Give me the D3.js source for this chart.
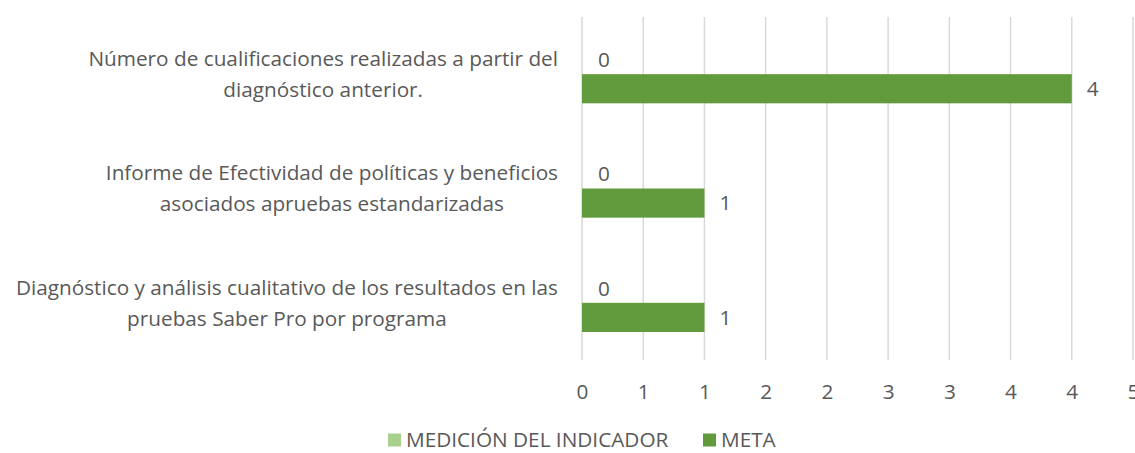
<!DOCTYPE html>
<html>
<head>
<meta charset="utf-8">
<script src="https://cdn.jsdelivr.net/npm/d3@7"></script>
<style>
  html, body { margin: 0; padding: 0; background: #ffffff; }
  svg { display: block; }
  text { font-family: "Open Sans", Lato, sans-serif; fill: #595959; }
</style>
</head>
<body>
<svg id="chart" width="1135" height="453"></svg>
<script>
// ---- data ----
const categories = [
  ["Número de cualificaciones realizadas a partir del", "diagnóstico anterior."],
  ["Informe de Efectividad de políticas y beneficios", "asociados apruebas estandarizadas"],
  ["Diagnóstico y análisis cualitativo de los resultados en las", "pruebas Saber Pro por programa"]
];
const seriesNames = ["MEDICIÓN DEL INDICADOR", "META"];
const medicion = [0, 0, 0];
const meta = [4, 1, 1];
const tickValues = [0, 0.5, 1, 1.5, 2, 2.5, 3, 3.5, 4, 4.5];
const seriesColors = ["#a9d18e", "#629a3e"];

// ---- layout ----
const W = 1135, H = 453;
const plot = { left: 582, right: 1133, top: 17, bottom: 360 };
const svg = d3.select("#chart");

// fit font size so that text widths resemble the reference
const probe = svg.append("text").attr("font-size", 20).text(categories[0][0]);
const FS = 20 * 470 / probe.node().getComputedTextLength();
probe.remove();

const x = d3.scaleLinear().domain([0, 4.5]).range([plot.left, plot.right]);
const y = d3.scaleBand().domain(d3.range(categories.length)).range([plot.top, plot.bottom]);
const barH = y.bandwidth() * 0.255;
const inner = d3.scaleBand().domain([0, 1]).range([-barH, barH]);

// gridlines
svg.append("g")
  .selectAll("line")
  .data(tickValues)
  .join("line")
  .attr("x1", d => x(d)).attr("x2", d => x(d))
  .attr("y1", plot.top).attr("y2", plot.bottom)
  .attr("stroke", "#d9d9d9").attr("stroke-width", 1.5);

// x axis labels (Excel "0" format rounds half up)
const xAxis = d3.axisBottom(x).tickValues(tickValues).tickSize(0).tickPadding(0)
  .tickFormat(d => String(Math.round(d + 1e-9)));
const ax = svg.append("g").attr("transform", `translate(0, ${plot.bottom + 32})`).call(xAxis);
ax.select(".domain").remove();
ax.selectAll("text").attr("font-size", FS).attr("dy", "0.35em").style("fill", "#595959")
  .style("font-family", "'Open Sans', Lato, sans-serif");

// bars
const series = [medicion, meta];
series.forEach((vals, si) => {
  const g = svg.append("g");
  g.selectAll("rect")
    .data(vals)
    .join("rect")
    .attr("x", x(0))
    .attr("y", (d, i) => y(i) + y.bandwidth() / 2 + inner(si))
    .attr("width", d => x(d) - x(0))
    .attr("height", barH)
    .attr("fill", seriesColors[si]);
  g.selectAll("text")
    .data(vals)
    .join("text")
    .attr("x", d => x(d) + (d === 0 ? 22 : 21))
    .attr("y", (d, i) => y(i) + y.bandwidth() / 2 + inner(si) + barH / 2)
    .attr("dy", "0.35em")
    .attr("text-anchor", "middle")
    .attr("font-size", FS)
    .text(d => d);
});

// category labels
const catG = svg.append("g");
categories.forEach((lines, i) => {
  const t = catG.append("text")
    .attr("font-size", FS)
    .attr("text-anchor", "middle");
  const cy = y(i) + y.bandwidth() / 2;
  const lh = 31;
  lines.forEach((ln, k) => {
    t.append("tspan")
      .attr("x", 0)
      .attr("y", cy + (k - (lines.length - 1) / 2) * lh)
      .attr("dy", "0.35em")
      .text(ln);
  });
  // right-align block at x = 558
  const bb = t.node().getBBox();
  const cx = 558 - bb.width / 2;
  t.selectAll("tspan").attr("x", cx);
});

// legend
const legend = svg.append("g").attr("transform", `translate(0, 440)`);
const legendX = [388, 703];
seriesNames.forEach((name, i) => {
  legend.append("rect").attr("x", legendX[i]).attr("y", -6.5).attr("width", 13).attr("height", 13)
    .attr("fill", seriesColors[i]);
  legend.append("text").attr("x", legendX[i] + 18).attr("y", 0).attr("dy", "0.35em")
    .attr("font-size", FS).text(name);
});
</script>
</body>
</html>
